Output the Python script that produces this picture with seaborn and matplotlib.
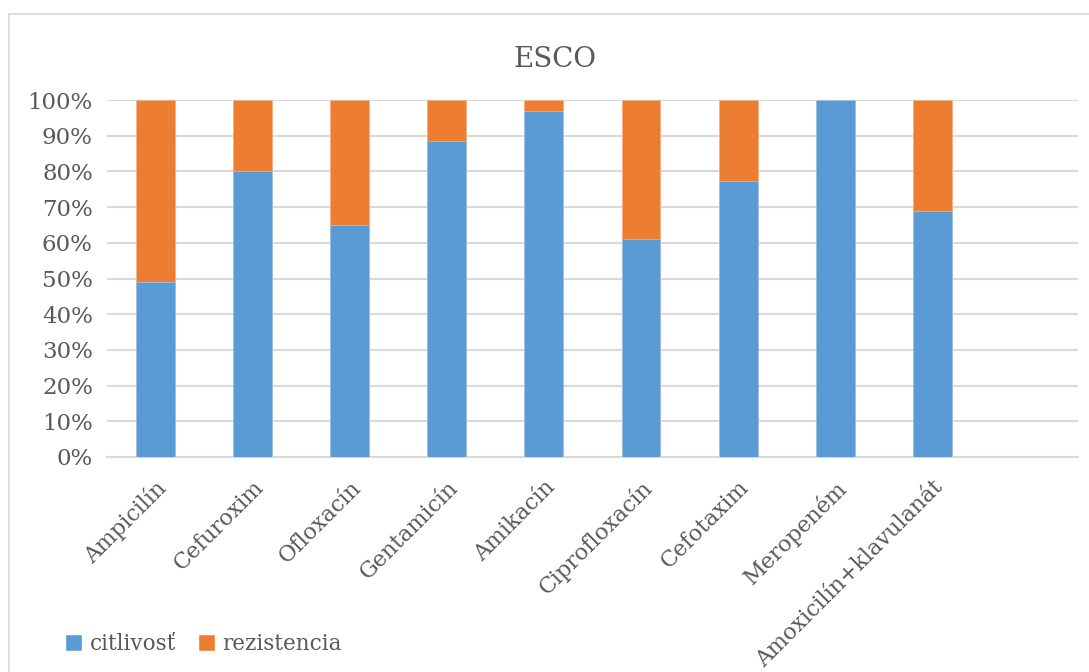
import matplotlib
matplotlib.use("Agg")
import matplotlib.pyplot as plt
from matplotlib.patches import Patch, Rectangle
import seaborn as sns
import pandas as pd

# Antibiotic susceptibility of ESCO isolates (percent of isolates)
antibiotics = ["Ampicilín", "Cefuroxim", "Ofloxacín", "Gentamicín", "Amikacín",
               "Ciprofloxacín", "Cefotaxim", "Meropeném", "Amoxicilín+klavulanát"]
citlivost = [49, 80, 65, 88.5, 97, 61, 77.3, 100, 69]
rezistencia = [51, 20, 35, 11.5, 3, 39, 22.7, 0, 31]
series_names = ["citlivosť", "rezistencia"]
y_ticks = [0, 10, 20, 30, 40, 50, 60, 70, 80, 90, 100]

BLUE = "#5B9BD5"
ORANGE = "#ED7D31"
TEXT = "#595959"
GRID = "#D9D9D9"

sns.set_theme(style="white")
plt.rcParams["font.family"] = ["DejaVu Serif"]

df = pd.DataFrame({
    "antibiotic": antibiotics,
    "citlivost": citlivost,
    "total": [c + r for c, r in zip(citlivost, rezistencia)],
})

fig = plt.figure(figsize=(10.89, 6.72), dpi=100)
ax = fig.add_axes([0.098, 0.320, 0.892, 0.531])

# stacked bars: full height (orange) with the susceptible part drawn over it (blue)
sns.barplot(data=df, x="antibiotic", y="total", order=antibiotics, color=ORANGE,
            width=0.40, saturation=1, ax=ax, edgecolor="#F4B183", linewidth=0.6, zorder=2)
sns.barplot(data=df, x="antibiotic", y="citlivost", order=antibiotics, color=BLUE,
            width=0.40, saturation=1, ax=ax, edgecolor="#9DC3E6", linewidth=0.6, zorder=3)

ax.set_xlim(-0.5, 9.5)
ax.set_ylim(0, 100)
ax.set_yticks(y_ticks)
ax.set_yticklabels([f"{v}%" for v in y_ticks])
ax.yaxis.grid(True, color=GRID, linewidth=1.5, zorder=0)
ax.set_axisbelow(True)
for side in ["top", "right", "left"]:
    ax.spines[side].set_visible(False)
ax.spines["bottom"].set_color(GRID)
ax.spines["bottom"].set_linewidth(1.5)
ax.tick_params(axis="y", length=0, labelsize=16.5, colors=TEXT, pad=10)
ax.tick_params(axis="x", length=0, labelsize=16, colors=TEXT, pad=14)
ax.set_xticks(range(len(antibiotics)))
ax.set_xticklabels(antibiotics, rotation=45, ha="right", va="top",
                   rotation_mode="anchor", color=TEXT)
ax.set_xlabel("")
ax.set_ylabel("")

fig.text(0.51, 0.912, "ESCO", ha="center", va="center", fontsize=20, color=TEXT)

handles = [Patch(facecolor=BLUE, label=series_names[0]),
           Patch(facecolor=ORANGE, label=series_names[1])]
fig.legend(handles=handles, loc="center left", bbox_to_anchor=(0.042, 0.042),
           ncol=2, frameon=False, fontsize=15.5, labelcolor=TEXT,
           handlelength=0.8, handleheight=0.8, handletextpad=0.35, columnspacing=1.0)

# chart-area frame
fig.patches.append(Rectangle((0.008, -0.01), 1.1, 0.989, transform=fig.transFigure,
                             fill=False, edgecolor=GRID, linewidth=1.2))

fig.savefig("out.png", dpi=100, facecolor="white")
